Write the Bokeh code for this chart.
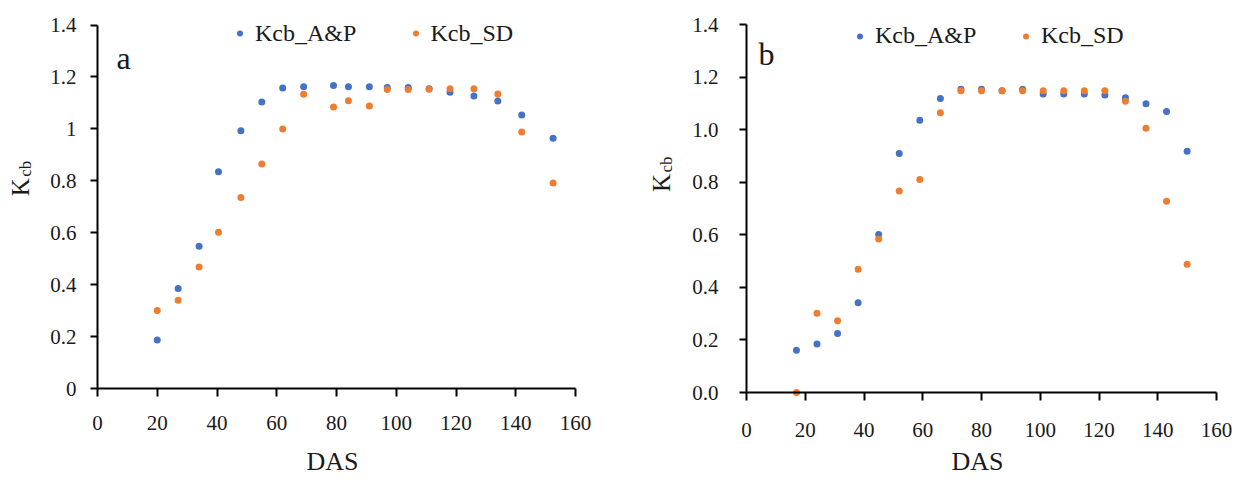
import math
from bokeh.plotting import figure
from bokeh.models import FixedTicker, Label, Legend, LegendItem, Range1d
from bokeh.layouts import row
from bokeh.embed import file_html
from bokeh.resources import INLINE

# ---------------- data ----------------
das_a = [20, 27, 34, 40.5, 48, 55, 62, 69, 79, 84, 91, 97, 104, 111, 118, 126, 134, 142, 152.5]
kcb_ap_a = [0.187, 0.385, 0.548, 0.835, 0.993, 1.103, 1.157, 1.162, 1.167, 1.162, 1.162,
            1.159, 1.159, 1.154, 1.141, 1.127, 1.107, 1.053, 0.964]
kcb_sd_a = [0.300, 0.340, 0.468, 0.602, 0.736, 0.865, 0.999, 1.133, 1.084, 1.108, 1.088,
            1.152, 1.152, 1.153, 1.154, 1.154, 1.134, 0.988, 0.791]

das_b = [17, 24, 31, 38, 45, 52, 59, 66, 73, 80, 87, 94, 101, 108, 115, 122, 129, 136, 143, 150]
kcb_ap_b = [0.161, 0.185, 0.225, 0.342, 0.602, 0.910, 1.037, 1.119, 1.155, 1.155, 1.149,
            1.155, 1.137, 1.137, 1.137, 1.133, 1.122, 1.099, 1.070, 0.919]
kcb_sd_b = [0.0, 0.302, 0.273, 0.469, 0.584, 0.767, 0.811, 1.065, 1.149, 1.149, 1.149,
            1.149, 1.149, 1.149, 1.149, 1.149, 1.109, 1.006, 0.728, 0.488]

x_ticks = [0, 20, 40, 60, 80, 100, 120, 140, 160]
y_ticks = [0, 0.2, 0.4, 0.6, 0.8, 1.0, 1.2, 1.4]
y_labels_a = ["0", "0.2", "0.4", "0.6", "0.8", "1", "1.2", "1.4"]
y_labels_b = ["0.0", "0.2", "0.4", "0.6", "0.8", "1.0", "1.2", "1.4"]
series_names = ["Kcb_A&P", "Kcb_SD"]
panel_letters = ["a", "b"]
x_title = "DAS"

BLUE = "#4472C4"
ORANGE = "#ED7D31"
FONT = "Liberation Serif"
TXT = "#1a1a1a"
X_LO, X_HI = 0, 160
Y_LO, Y_HI = 0, 1.4


def make_panel(das, ap, sd, ylabels, letter, cfg):
    W, H = cfg["W"], cfg["H"]
    # pixel positions (inside this figure) of the axes box
    pl, pr, pt, pb = cfg["pl"], cfg["pr"], cfg["pt"], cfg["pb"]
    sx = (pr - pl) / (X_HI - X_LO)
    sy = (pb - pt) / (Y_HI - Y_LO)
    xr = Range1d(X_LO - pl / sx, X_LO + (W - pl) / sx)
    yr = Range1d(Y_LO - (H - pb) / sy, Y_HI + pt / sy)

    p = figure(frame_width=W, frame_height=H, x_range=xr, y_range=yr,
               min_border=0, output_backend="svg", toolbar_location=None,
               background_fill_color="white", border_fill_color="white")
    p.outline_line_color = None
    p.xgrid.visible = False
    p.ygrid.visible = False

    r1 = p.scatter(das, ap, size=7, color=BLUE, line_color=None)
    r2 = p.scatter(das, sd, size=7, color=ORANGE, line_color=None)

    for ax in (p.xaxis[0], p.yaxis[0]):
        ax.fixed_location = 0
        ax.axis_line_color = "black"
        ax.axis_line_width = 2
        ax.major_tick_line_color = "black"
        ax.major_tick_line_width = 2
        ax.major_tick_in = 0
        ax.minor_tick_line_color = None
        ax.major_label_text_font = FONT
        ax.major_label_text_font_size = "21px"
        ax.major_label_text_color = TXT

    p.xaxis.bounds = (X_LO, X_HI)
    p.xaxis.ticker = FixedTicker(ticks=x_ticks)
    p.xaxis.major_tick_out = 8
    p.xaxis.major_label_standoff = cfg["xstand"]

    p.yaxis.bounds = (Y_LO, Y_HI)
    p.yaxis.ticker = FixedTicker(ticks=y_ticks)
    p.yaxis.major_tick_out = 7
    p.yaxis.major_label_standoff = cfg["ystand"]
    p.yaxis.major_label_overrides = {t: l for t, l in zip(y_ticks, ylabels)}

    # legends (one per item so each lands at its own spot)
    for name, rend, vx in ((series_names[0], r1, cfg["lg1"]), (series_names[1], r2, cfg["lg2"])):
        lg = Legend(items=[LegendItem(label=name, renderers=[rend])],
                    location=(vx, cfg["lgy"]), orientation="horizontal",
                    padding=0, margin=0, spacing=0,
                    border_line_alpha=0, background_fill_alpha=0,
                    glyph_width=15, glyph_height=36, label_height=36,
                    label_standoff=8, label_text_font=FONT,
                    label_text_font_size="24px", label_text_color=TXT)
        p.add_layout(lg)

    # panel letter
    p.add_layout(Label(x=0, y=Y_HI, x_offset=cfg["let_x"], y_offset=cfg["let_y"], text=letter,
                       text_font=FONT, text_font_size="32px", text_color=TXT,
                       text_align="left", text_baseline="middle"))
    # y title K_cb
    p.add_layout(Label(x=0, y=Y_HI, x_offset=cfg["k_x"], y_offset=cfg["k_y"], text="K",
                       angle=math.pi / 2, text_font=FONT, text_font_size="25px",
                       text_color=TXT, text_align="center", text_baseline="middle"))
    p.add_layout(Label(x=0, y=Y_HI, x_offset=cfg["k_x"] + 5, y_offset=cfg["k_y"] + 18.5, text="cb",
                       angle=math.pi / 2, text_font=FONT, text_font_size="17px",
                       text_color=TXT, text_align="center", text_baseline="middle"))
    # x title
    p.add_layout(Label(x=80, y=0, x_offset=-4, y_offset=cfg["das_y"], text=x_title,
                       text_font=FONT, text_font_size="26px", text_color=TXT,
                       text_align="center", text_baseline="middle"))
    return p


cfg_a = dict(W=620, H=478, pl=97, pr=575, pt=24.5, pb=388, xstand=19, ystand=14,
             lg1=232, lg2=407.5, lgy=478 - 33.3 - 18, let_x=19, let_y=-32.5,
             k_x=-77, k_y=-162.2, das_y=-73)
cfg_b = dict(W=621, H=478, pl=126, pr=596, pt=24.3, pb=392, xstand=22, ystand=21,
             lg1=232, lg2=398, lgy=478 - 35.5 - 18, let_x=12, let_y=-29,
             k_x=-85, k_y=-158.2, das_y=-69)

pa = make_panel(das_a, kcb_ap_a, kcb_sd_a, y_labels_a, panel_letters[0], cfg_a)
pb = make_panel(das_b, kcb_ap_b, kcb_sd_b, y_labels_b, panel_letters[1], cfg_b)

layout = row(pa, pb)
open("out.html", "w").write(file_html(layout, INLINE))
